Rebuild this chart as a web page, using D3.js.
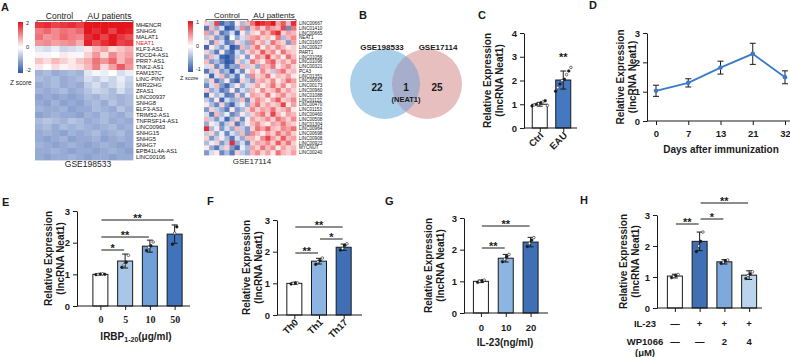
<!DOCTYPE html>
<html>
<head>
<meta charset="utf-8">
<script src="https://cdn.jsdelivr.net/npm/d3@7"></script>
<style>
  body { margin: 0; background: #fff; }
  svg { display: block; font-family: "Liberation Sans", Arial, sans-serif; }
</style>
</head>
<body>
<svg id="fig" width="790" height="357"></svg>
<script>
// ---------- data ----------
// A: GSE198533 heatmap (z scores, 6 control + 6 AU patients)
const genesA1 = ["MHENCR","SNHG6","MALAT1","NEAT1","KLF3-AS1","PDCD4-AS1","PRR7-AS1","TNK2-AS1",
  "FAM157C","LINC-PINT","MIR22HG","ZFAS1","LINC00937","SNHG8","ELF3-AS1","TRIM52-AS1",
  "TNFRSF14-AS1","LINC00963","SNHG15","SNHG5","SNHG7","EPB41L4A-AS1","LINC00106"];
const zA1 = [
  [1.7,1.8,1.6,1.7,1.8,1.6, 2.2,2.1,2.2,2.2,2.1,2.2],
  [1.1,1.3,1.0,1.2,1.1,1.3, 2.0,1.8,2.1,1.6,2.0,1.9],
  [1.2,0.9,1.0,1.3,1.1,1.0, 1.8,2.1,1.6,2.0,1.7,1.5],
  [0.9,1.0,0.8,0.9,1.0,0.7, 1.9,1.5,1.8,2.0,1.6,1.7],
  [-0.3,-0.4,-0.2,-0.5,-0.4,-0.3, 0.2,0.6,0.8,0.3,0.5,0.7],
  [0.1,-0.1,0.0,0.2,0.1,-0.1, 0.4,0.9,0.3,1.0,0.6,0.8],
  [0.5,0.3,0.6,0.4,0.2,0.5, 0.7,1.2,0.9,1.3,0.6,1.0],
  [0.2,0.0,0.3,0.1,0.2,0.3, 0.6,1.1,0.3,0.8,1.4,0.9],
  [-0.9,-0.8,-1.0,-0.9,-0.8,-0.9, -0.3,-0.1,-0.2,0.0,-0.4,-0.2],
  [-0.8,-0.9,-0.8,-1.0,-0.9,-0.8, -0.4,-0.6,-0.3,-0.5,-0.2,-0.5],
  [-1.0,-0.9,-0.8,-1.0,-0.9,-1.0, -0.6,-0.4,-0.7,-0.5,-0.3,-0.6],
  [-0.9,-1.0,-0.9,-0.8,-1.0,-0.9, -0.7,-0.5,-0.6,-0.8,-0.4,-0.7],
  [-1.1,-1.0,-1.1,-1.0,-1.1,-1.0, -0.8,-0.9,-0.7,-0.8,-0.9,-0.8],
  [-1.0,-1.1,-0.9,-1.1,-1.0,-1.1, -0.9,-0.8,-1.0,-0.7,-0.9,-0.8],
  [-0.9,-1.0,-1.0,-0.9,-1.1,-1.0, -1.0,-0.8,-0.9,-1.0,-0.7,-0.9],
  [-1.1,-1.0,-0.9,-1.0,-1.0,-1.1, -0.9,-1.0,-0.8,-0.9,-1.0,-0.8],
  [-0.8,-0.7,-0.8,-0.9,-0.7,-0.8, -1.0,-0.9,-0.8,-1.0,-0.9,-1.0],
  [-0.9,-0.8,-1.0,-0.8,-0.9,-0.8, -0.9,-1.0,-0.9,-0.8,-1.0,-0.9],
  [-1.0,-0.9,-1.0,-1.1,-0.9,-1.0, -0.9,-0.8,-1.0,-0.9,-0.8,-1.0],
  [-1.0,-1.1,-1.0,-0.9,-1.1,-1.0, -1.0,-0.9,-1.1,-1.0,-0.9,-1.0],
  [-0.9,-1.0,-1.1,-1.0,-0.9,-1.0, -1.1,-1.0,-0.9,-1.0,-1.1,-1.0],
  [-1.0,-1.0,-0.9,-1.0,-1.1,-1.0, -1.0,-1.1,-1.0,-0.9,-1.0,-1.1],
  [-1.0,-1.1,-1.0,-1.0,-0.9,-1.0, -1.1,-1.0,-1.0,-1.1,-1.0,-1.0]
];
// A: GSE17114 heatmap (z scores, 9 control + 9 AU patients)
const genesA2 = ["LINC00667","LINC01410","LINC00665","NEAT1","LINC01607","LINC00927","PART1",
  "LINC01056","LINC01096","LINC00321","PCA3","LINC01351","LINC00667","LINC00173","LINC00960",
  "LINC01088","LINC01122","LINC00470","LINC01153","LINC00460","LINC00508","LINC01304",
  "LINC00964","LINC00698","LINC00908","LINC00923","MYCNUT","LINC00240"];
const zA2 = [
  [0.2,-0.3,0.8,-0.9,-0.6,-0.8,0.1,-0.4,0.3, 0.6,1.0,0.9,0.8,1.0,0.4,0.7,0.3,0.9],
  [-0.8,0.3,-0.5,-0.2,-1.0,-0.9,-0.3,0.5,-0.6, 0.3,0.5,0.2,0.6,0.4,0.3,0.8,-0.7,0.6],
  [0.4,-0.5,0.2,-0.8,-0.6,-0.2,-0.9,0.1,-0.4, 0.2,0.1,0.5,0.3,0.7,0.9,0.2,0.4,0.3],
  [-0.3,0.2,-0.6,-0.4,-0.9,0.0,-0.5,-0.2,0.3, 0.4,0.5,0.2,0.3,0.1,0.6,-0.4,0.3,0.5],
  [0.1,-0.7,0.3,-0.2,-0.8,-0.6,0.2,-0.3,-0.5, 0.5,0.2,0.4,-0.2,0.6,0.3,0.2,-0.6,0.4],
  [-0.9,0.1,-0.3,-0.6,-0.2,-1.0,-0.8,0.3,-0.4, 0.3,0.6,0.1,0.4,0.2,0.5,0.3,0.1,0.2],
  [0.2,-0.4,-0.8,0.1,-0.7,-0.9,-0.2,-0.5,0.2, 0.4,0.2,0.7,0.3,0.5,0.1,0.6,0.3,0.2],
  [-0.5,0.3,-0.2,-0.9,-1.0,-0.8,-0.3,0.1,-0.6, 0.1,0.5,0.3,0.8,0.2,0.4,0.1,0.6,0.3],
  [0.3,-0.6,-0.4,-0.7,-1.0,-0.9,0.2,-0.4,-0.2, 0.6,0.3,0.1,0.5,0.7,0.2,0.4,0.2,0.5],
  [-0.2,0.2,-0.7,-0.3,-0.9,-0.5,-0.6,0.3,-0.3, 0.2,-0.5,0.4,0.3,0.6,0.1,0.3,0.5,0.2],
  [-0.8,-0.3,0.2,-0.6,-0.4,-1.0,-0.2,-0.7,0.1, 0.3,0.1,0.5,0.2,-0.3,0.4,0.6,0.2,0.3],
  [0.1,-0.9,-0.2,0.3,-0.6,-0.3,-0.8,-0.1,-0.5, 0.5,0.2,0.3,0.6,0.1,0.3,0.2,0.4,0.1],
  [-0.4,0.2,-0.8,-0.5,0.1,-0.7,-0.9,0.2,-0.3, -0.6,0.3,0.4,0.2,0.5,0.1,0.3,0.6,0.4],
  [-0.7,-0.2,0.3,-0.6,-0.9,-0.4,0.1,-0.5,-0.2, 0.2,0.4,0.1,0.3,0.6,0.2,0.5,0.1,0.3],
  [0.2,-0.5,-0.3,-0.8,-0.6,0.1,-0.7,-0.2,-0.4, 0.3,0.1,0.5,0.2,0.3,0.6,0.2,0.4,0.2],
  [-0.9,0.1,-0.4,-0.2,-0.8,-0.7,0.2,-0.6,0.1, 0.4,0.3,0.2,0.6,0.1,0.3,0.5,0.2,0.3],
  [-0.3,-0.6,0.1,-0.9,-0.2,-0.5,-0.4,0.3,-0.7, 0.2,0.5,0.3,0.1,0.4,0.7,0.2,0.3,0.5],
  [0.1,-0.4,-0.7,0.2,-0.6,-0.9,-0.3,-0.1,-0.5, 0.3,0.6,0.2,0.4,0.2,0.3,0.8,0.1,0.4],
  [-0.6,0.2,-0.3,-0.5,-0.8,0.1,-0.6,-0.4,0.2, 0.5,0.2,0.4,0.3,0.6,0.2,0.3,0.5,0.1],
  [-0.2,-0.8,0.3,-0.4,-0.1,-0.7,-0.5,0.1,-0.3, 0.2,0.4,0.6,0.2,0.8,0.3,0.1,0.4,0.3],
  [0.3,-0.3,-0.6,-0.2,-0.9,-0.4,0.2,-0.7,-0.1, 0.4,0.2,0.3,0.5,0.2,0.6,0.4,0.2,0.5],
  [-0.5,0.1,-0.2,-0.7,-0.3,0.2,-0.8,-0.4,0.1, 0.3,0.5,0.2,0.1,0.4,0.3,0.6,0.3,0.2],
  [0.9,-0.4,0.1,-0.6,-0.2,-0.5,0.3,-0.3,-0.6, 0.2,0.6,0.4,0.7,0.3,0.2,0.5,0.4,0.6],
  [-0.3,0.2,-0.5,-0.1,-0.7,-0.2,-0.4,0.3,-0.6, 0.5,0.3,0.1,0.4,0.2,0.6,0.3,0.5,0.2],
  [0.2,-0.6,-0.3,0.1,-0.4,-0.8,-0.2,-0.5,0.3, 0.3,0.1,0.5,0.8,0.4,0.2,0.7,0.3,0.4],
  [-0.4,-0.1,0.2,-0.6,-0.3,0.9,-0.5,-0.2,-0.7, 0.2,0.4,0.3,0.5,0.2,0.7,0.3,0.6,0.2],
  [0.1,-0.5,-0.8,-0.3,0.2,-0.6,-0.9,-0.1,-0.4, 0.4,0.2,0.6,0.3,0.5,0.1,0.4,0.2,0.3],
  [-0.6,-0.2,0.1,-0.7,-0.4,-0.8,0.2,-0.3,-0.5, 0.3,0.5,0.2,0.4,0.1,0.6,0.3,0.2,0.4]
];

// B: Venn
const vennSets = ["GSE198533", "GSE17114"];
const vennCounts = [22, 1, 25];
const vennShared = "(NEAT1)";

// C
const cCats = ["Ctrl", "EAU"];
const cMeans = [1.0, 2.02];
const cSD = [0.08, 0.38];
const cPoints = [[0.93,0.97,1.0,1.02,1.06,1.1,1.15,0.95],[1.55,1.7,1.85,2.0,2.05,2.25,2.4,2.55]];

// D
const dDays = ["0","7","13","21","32"];
const dMeans = [1.03, 1.3, 1.82, 2.29, 1.49];
const dSD = [0.19, 0.14, 0.22, 0.36, 0.22];

// E
const eCats = ["0","5","10","50"];
const eMeans = [1.0, 1.42, 1.89, 2.27];
const eSD = [0.02, 0.22, 0.19, 0.29];
const ePoints = [[0.99,1.0,1.01,1.02,1.0],[1.22,1.3,1.38,1.6],[1.75,1.85,1.9,2.02],[1.95,2.3,2.5]];
const eSig = [[0,1,"*"],[0,2,"**"],[0,3,"**"]];

// F
const fCats = ["Th0","Th1","Th17"];
const fMeans = [1.0, 1.7, 2.14];
const fSD = [0.03, 0.09, 0.1];
const fPoints = [[0.98,1.0,1.02,1.01],[1.6,1.68,1.72,1.8],[2.05,2.1,2.2,2.25]];
const fSig = [[0,1,"**"],[1,2,"*"],[0,2,"**"]];

// G
const gCats = ["0","10","20"];
const gMeans = [1.0, 1.73, 2.24];
const gSD = [0.04, 0.12, 0.15];
const gPoints = [[0.97,1.0,1.02,1.04],[1.62,1.7,1.78,1.85],[2.1,2.2,2.3,2.38]];
const gSig = [[0,1,"**"],[0,2,"**"]];

// H
const hCats = ["a","b","c","d"];
const hMeans = [1.03, 2.15, 1.49, 1.06];
const hSD = [0.06, 0.3, 0.07, 0.14];
const hPoints = [[0.98,1.02,1.05,1.08],[1.82,2.0,2.15,2.45],[1.44,1.48,1.52,1.55],[0.95,1.05,1.1,1.17]];
const hSig = [[0,1,"**"],[1,2,"*"],[1,3,"**"]];
const hIL23 = ["\u2014","+","+","+"];
const hWP = ["\u2014","\u2014","2","4"];

// ---------- drawing ----------
const svg = d3.select("#fig");
svg.append("rect").attr("width", 790).attr("height", 357).attr("fill", "#fff");
const defs = svg.append("defs");
const INK = "#1a1a1a";

// panel letters
[["A",1,11],["B",359,19],["C",478,19],["D",589,9],["E",2,206],["F",207,205],["G",385,205],["H",580,204]]
  .forEach(([t, x, y]) => svg.append("text").attr("x", x).attr("y", y)
    .attr("font-size", 11).attr("font-weight", "bold").attr("fill", INK).text(t));

function heatmap(o) {
  const g = svg.append("g");
  const nCols = o.values[0].length;
  const x = d3.scaleBand().domain(d3.range(nCols)).range(o.xr);
  const y = d3.scaleBand().domain(d3.range(o.genes.length)).range(o.yr);
  const color = d3.scaleLinear().domain([-o.lim, 0, o.lim])
    .range(["#2f57a8", "#ffffff", "#e3151d"]).clamp(true);

  o.values.forEach((row, i) => {
    g.append("g").selectAll("rect").data(row).enter().append("rect")
      .attr("x", (d, j) => x(j)).attr("y", y(i))
      .attr("width", x.bandwidth() + 0.4).attr("height", y.bandwidth() + 0.4)
      .attr("fill", d => color(d));
  });

  g.selectAll(".gene").data(o.genes).enter().append("text")
    .attr("x", o.xr[1] + 3).attr("y", (d, i) => y(i) + y.bandwidth() / 2)
    .attr("dy", "0.36em").attr("font-size", o.fs)
    .attr("fill", d => d === o.highlight ? "#e0201e" : "#111").text(d => d);

  // group brackets
  const half = x(nCols / 2);
  [[o.xr[0] + 2, half - 2, "Control"], [half + 2, o.xr[1], "AU patients"]].forEach(([a, b, t]) => {
    g.append("path").attr("d", `M${a},${o.bracketY + 2}V${o.bracketY}H${b}V${o.bracketY + 2}`)
      .attr("fill", "none").attr("stroke", "#555").attr("stroke-width", 0.9);
    g.append("text").attr("x", (a + b) / 2).attr("y", o.bracketY - 2).attr("text-anchor", "middle")
      .attr("font-size", o.groupFs).attr("fill", "#222").text(t);
  });

  g.append("text").attr("x", o.titleX).attr("y", o.titleY).attr("text-anchor", "middle")
    .attr("font-size", o.titleFs).attr("fill", "#222").text(o.title);

  // colour legend
  const gid = "grad" + o.id;
  const grad = defs.append("linearGradient").attr("id", gid)
    .attr("x1", 0).attr("x2", 0).attr("y1", 0).attr("y2", 1);
  [[0, "#e3151d"], [0.5, "#ffffff"], [1, "#2f57a8"]].forEach(([off, c]) =>
    grad.append("stop").attr("offset", off).attr("stop-color", c));
  const ly = d3.scaleLinear().domain([o.lim, -o.lim]).range(o.legY);
  g.append("rect").attr("x", o.legX).attr("y", o.legY[0]).attr("width", 5)
    .attr("height", o.legY[1] - o.legY[0]).attr("fill", `url(#${gid})`);
  g.selectAll(".lt").data([o.lim, 0, -o.lim]).enter().append("text")
    .attr("x", o.legX + 8).attr("y", d => ly(d) + (d === o.lim ? 2.5 : d === 0 ? 1.5 : -1))
    .attr("font-size", 5.5).attr("fill", "#222").text(d => d);
  g.append("text").attr("x", o.legX - 8).attr("y", o.legY[1] + o.zGap)
    .attr("font-size", o.zFs).attr("fill", "#222").text("Z score");
}

heatmap({ id: 1, genes: genesA1, values: zA1, lim: 2, xr: [35, 133], yr: [22, 160], fs: 5.8,
  highlight: "NEAT1", bracketY: 20.5, groupFs: 8.5, title: "GSE198533", titleX: 88, titleY: 167,
  titleFs: 8.5, legX: 18, legY: [22, 73], zGap: 12, zFs: 6.5 });
heatmap({ id: 2, genes: genesA2, values: zA2, lim: 1, xr: [204, 296], yr: [21, 155], fs: 4.6,
  highlight: null, bracketY: 19.5, groupFs: 8, title: "GSE17114", titleX: 252, titleY: 164,
  titleFs: 8, legX: 188, legY: [21, 72], zGap: 8, zFs: 5.5 });

// ---------- B: Venn ----------
(function () {
  const g = svg.append("g");
  const r = 35;
  const cx = d3.scalePoint().domain(vennSets).range([385, 427]);
  const cy = 84;
  defs.append("clipPath").attr("id", "vennClip").append("circle")
    .attr("cx", cx(vennSets[0])).attr("cy", cy).attr("r", r);
  g.append("circle").attr("cx", cx(vennSets[0])).attr("cy", cy).attr("r", r).attr("fill", "#a9cfea");
  g.append("circle").attr("cx", cx(vennSets[1])).attr("cy", cy).attr("r", r).attr("fill", "#e7bfbf");
  g.append("circle").attr("cx", cx(vennSets[1])).attr("cy", cy).attr("r", r)
    .attr("clip-path", "url(#vennClip)").attr("fill", "#a6aecb");
  g.selectAll(".vt").data(vennSets).enter().append("text")
    .attr("x", (d, i) => cx(d) + (i ? 11 : -3)).attr("y", 50).attr("text-anchor", "middle")
    .attr("font-size", 8).attr("font-weight", "bold").attr("fill", INK).text(d => d);
  const numX = [cx(vennSets[0]) - 8, (cx(vennSets[0]) + cx(vennSets[1])) / 2, cx(vennSets[1]) + 10];
  g.selectAll(".vn").data(vennCounts).enter().append("text")
    .attr("x", (d, i) => numX[i]).attr("y", 91).attr("text-anchor", "middle")
    .attr("font-size", 10).attr("font-weight", "bold").attr("fill", INK).text(d => d);
  g.append("text").attr("x", numX[1]).attr("y", 102).attr("text-anchor", "middle")
    .attr("font-size", 7.5).attr("font-weight", "bold").attr("fill", INK).text(vennShared);
})();

// ---------- shared helpers ----------
function yTitle(g, bx, cy) {
  ["Relative Expression", "(lncRNA Neat1)"].forEach((t, i) =>
    g.append("text").attr("transform", `translate(${bx + i * 12},${cy}) rotate(-90)`)
      .attr("text-anchor", "middle").attr("font-size", 10).attr("font-weight", "bold")
      .attr("fill", INK).text(t));
}

function styleAxis(sel, fs, family) {
  sel.selectAll("path,line").attr("stroke", INK).attr("stroke-width", 1);
  sel.selectAll("text").attr("font-size", fs).attr("font-weight", "bold").attr("fill", INK)
    .attr("font-family", family || null);
}

function barPanel(p) {
  const g = svg.append("g");
  const y = d3.scaleLinear().domain([0, p.yMax]).range([p.yBase, p.yTop]);
  const x = d3.scalePoint().domain(p.cats).range(p.xr).padding(0.5);
  const bw = 15;

  // bars
  g.selectAll(".bar").data(p.means).enter().append("rect")
    .attr("x", (d, i) => x(p.cats[i]) - bw / 2).attr("y", d => y(d))
    .attr("width", bw).attr("height", d => p.yBase - y(d))
    .attr("fill", (d, i) => p.colors[i]).attr("stroke", INK).attr("stroke-width", 1);

  // error bars
  p.means.forEach((m, i) => {
    const cx = x(p.cats[i]);
    g.append("path")
      .attr("d", `M${cx},${y(m - p.sd[i])}V${y(m + p.sd[i])}M${cx - 3},${y(m + p.sd[i])}H${cx + 3}M${cx - 3},${y(m - p.sd[i])}H${cx + 3}`)
      .attr("stroke", INK).attr("stroke-width", 1).attr("fill", "none");
    const pts = p.points[i];
    g.selectAll(null).data(pts).enter().append("circle")
      .attr("cx", (d, k) => cx + (k - (pts.length - 1) / 2) * 2.2)
      .attr("cy", d => y(d)).attr("r", 1.3)
      .attr("fill", (d, k) => k % 2 ? "#fff" : INK).attr("stroke", INK).attr("stroke-width", 0.6);
  });

  // axes
  const ya = g.append("g").attr("transform", `translate(${p.x0},0)`)
    .call(d3.axisLeft(y).tickValues(d3.range(0, p.yMax + 1)).tickSize(4).tickSizeOuter(0).tickFormat(d3.format("d")));
  styleAxis(ya, 9.5);
  g.append("line").attr("x1", p.x0).attr("x2", p.x1).attr("y1", p.yBase).attr("y2", p.yBase)
    .attr("stroke", INK).attr("stroke-width", 1);
  const xa = g.append("g").attr("transform", `translate(0,${p.yBase})`)
    .call(d3.axisBottom(x).tickSize(4).tickPadding(p.tickPad || 5));
  xa.select(".domain").remove();
  styleAxis(xa, p.tickFs || 9.5, p.tickFamily);
  if (p.rotate) {
    xa.selectAll("text").attr("text-anchor", "end").attr("dy", null)
      .attr("transform", "translate(4,8) rotate(-45)").attr("y", 0).attr("x", 0);
  }
  if (p.hideTicks) xa.selectAll("text").remove();

  // significance
  (p.sig || []).forEach(([a, b, t], k) => {
    const ly = p.sigY[k];
    g.append("line").attr("x1", x(p.cats[a]) + 1).attr("x2", x(p.cats[b]) - 1)
      .attr("y1", ly).attr("y2", ly).attr("stroke", INK).attr("stroke-width", 1);
    g.append("text").attr("x", (x(p.cats[a]) + x(p.cats[b])) / 2).attr("y", ly + 2)
      .attr("text-anchor", "middle").attr("font-size", 11).attr("font-weight", "bold")
      .attr("fill", INK).text(t);
  });

  yTitle(g, p.titleX, (p.yBase + p.yTop) / 2);
  return { g, x, y };
}

// ---------- C ----------
const pc = barPanel({ cats: cCats, means: cMeans, sd: cSD, points: cPoints, colors: ["#ffffff", "#4478c0"],
  yMax: 4, yBase: 128, yTop: 33, x0: 524, x1: 577, xr: [528, 575], rotate: true, titleX: 491 });
pc.g.append("text").attr("x", pc.x("EAU")).attr("y", 61).attr("text-anchor", "middle")
  .attr("font-size", 11).attr("font-weight", "bold").attr("fill", INK).text("**");

// ---------- D ----------
(function () {
  const g = svg.append("g");
  const x = d3.scalePoint().domain(dDays).range([656, 785]);
  const y = d3.scaleLinear().domain([0, 3]).range([121, 33]);
  const blue = "#3b7bc6";
  dDays.forEach((d, i) => {
    const cx = x(d);
    g.append("path")
      .attr("d", `M${cx},${y(dMeans[i] - dSD[i])}V${y(dMeans[i] + dSD[i])}M${cx - 3},${y(dMeans[i] + dSD[i])}H${cx + 3}M${cx - 3},${y(dMeans[i] - dSD[i])}H${cx + 3}`)
      .attr("stroke", INK).attr("stroke-width", 1).attr("fill", "none");
  });
  g.append("path").datum(dMeans)
    .attr("d", d3.line().x((d, i) => x(dDays[i])).y(d => y(d)))
    .attr("fill", "none").attr("stroke", blue).attr("stroke-width", 1.8);
  g.selectAll(".dp").data(dMeans).enter().append("circle")
    .attr("cx", (d, i) => x(dDays[i])).attr("cy", d => y(d)).attr("r", 2.3).attr("fill", blue);
  const ya = g.append("g").attr("transform", "translate(647,0)")
    .call(d3.axisLeft(y).ticks(3).tickSize(4).tickSizeOuter(0).tickFormat(d3.format("d")));
  styleAxis(ya, 9.5);
  g.append("line").attr("x1", 647).attr("x2", 790).attr("y1", 121).attr("y2", 121)
    .attr("stroke", INK).attr("stroke-width", 1);
  const xa = g.append("g").attr("transform", "translate(0,121)")
    .call(d3.axisBottom(x).tickSize(4).tickPadding(5));
  xa.select(".domain").remove();
  styleAxis(xa, 9.5);
  g.append("text").attr("x", 721).attr("y", 153).attr("text-anchor", "middle")
    .attr("font-size", 10).attr("font-weight", "bold").attr("fill", INK).text("Days after immunization");
  yTitle(g, 624, 77);
})();

// ---------- E ----------
const pe = barPanel({ cats: eCats, means: eMeans, sd: eSD, points: ePoints,
  colors: ["#ffffff", "#a9c6e8", "#6fa1d8", "#3f74bb"], yMax: 3, yBase: 306, yTop: 211,
  x0: 77, x1: 190, xr: [88, 187], tickFamily: "'Liberation Serif', 'Times New Roman', serif",
  tickFs: 10, tickPad: 6, sig: eSig, sigY: [250, 237, 220], titleX: 52 });
const eT = pe.g.append("text").attr("x", 136).attr("y", 340).attr("text-anchor", "middle")
  .attr("font-size", 10).attr("font-weight", "bold").attr("fill", INK);
eT.append("tspan").text("IRBP");
eT.append("tspan").attr("font-size", 7).attr("dy", 2).text("1-20");
eT.append("tspan").attr("dy", -2).text("(\u03bcg/ml)");

// ---------- F ----------
barPanel({ cats: fCats, means: fMeans, sd: fSD, points: fPoints, colors: ["#ffffff", "#8db5e2", "#3f70b5"],
  yMax: 3, yBase: 315, yTop: 220, x0: 277, x1: 362, xr: [282, 356], rotate: true,
  sig: fSig, sigY: [253, 239, 227], titleX: 250 });

// ---------- G ----------
const pg = barPanel({ cats: gCats, means: gMeans, sd: gSD, points: gPoints, colors: ["#ffffff", "#8db5e2", "#3f70b5"],
  yMax: 3, yBase: 313, yTop: 218, x0: 464, x1: 548, xr: [468.5, 543], tickPad: 7,
  sig: gSig, sigY: [248, 226], titleX: 432 });
pg.g.append("text").attr("x", 505).attr("y", 346).attr("text-anchor", "middle")
  .attr("font-size", 10).attr("font-weight", "bold").attr("fill", INK).text("IL-23(ng/ml)");

// ---------- H ----------
const ph = barPanel({ cats: hCats, means: hMeans, sd: hSD, points: hPoints,
  colors: ["#ffffff", "#3f70b5", "#7ea9dc", "#bcd3ee"], yMax: 3, yBase: 308, yTop: 215,
  x0: 657, x1: 762, xr: [662.5, 761.5], hideTicks: true,
  sig: hSig, sigY: [224, 219, 203], titleX: 627 });
[[hIL23, 327], [hWP, 345]].forEach(([row, yy]) =>
  ph.g.selectAll(null).data(row).enter().append("text")
    .attr("x", (d, i) => ph.x(hCats[i])).attr("y", yy).attr("text-anchor", "middle")
    .attr("font-size", 9.5).attr("font-weight", "bold").attr("fill", INK).text(d => d));
[["IL-23", 327], ["WP1066", 345], ["(\u03bcM)", 356]].forEach(([t, yy]) =>
  ph.g.append("text").attr("x", 645).attr("y", yy).attr("text-anchor", "middle")
    .attr("font-size", 9.5).attr("font-weight", "bold").attr("fill", INK).text(t));
</script>
</body>
</html>
